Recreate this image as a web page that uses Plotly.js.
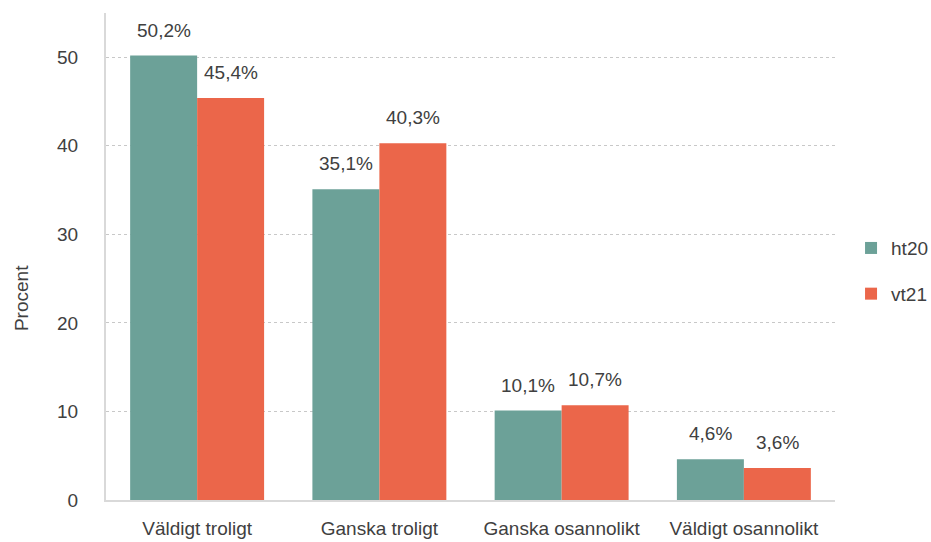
<!DOCTYPE html>
<html>
<head>
<meta charset="utf-8">
<script src="https://cdn.plot.ly/plotly-3.0.1.min.js"></script>
<style>
  html, body { margin: 0; padding: 0; background: #fff; }
  #chart { width: 931px; height: 542px; }
</style>
</head>
<body>
<div id="chart"></div>
<script>
const categories = ['Väldigt troligt', 'Ganska troligt', 'Ganska osannolikt', 'Väldigt osannolikt']
const ht20 = [50.2, 35.1, 10.1, 4.6]
const vt21 = [45.4, 40.3, 10.7, 3.6]

const colorHt20 = 'rgb(108,161,152)'
const colorVt21 = 'rgb(235,102,74)'
const colorText = 'rgb(64,64,64)'
const fontFamily = '"Liberation Sans", Arial, sans-serif'
const fontSize = 19

const label = v => v.toFixed(1).replace('.', ',') + '%'

const data = [
  {
    x: categories,
    y: ht20,
    type: 'bar',
    name: 'ht20',
    legendgroup: 'a',
    hoverinfo: 'none',
    marker: {color: colorHt20}
  },
  {
    x: categories,
    y: vt21,
    type: 'bar',
    name: 'vt21',
    legendgroup: 'b',
    hoverinfo: 'none',
    marker: {color: colorVt21}
  }
]

// value labels above the bars, shifted left/right onto each bar of the group
const valueLabels = (values, shift) => values.map((v, i) => ({
  x: categories[i],
  y: v,
  xref: 'x',
  yref: 'y',
  text: label(v),
  showarrow: false,
  xanchor: 'center',
  yanchor: 'bottom',
  xshift: shift,
  yshift: 13,
  font: {size: fontSize, color: colorText}
}))

const layout = {
  width: 931,
  height: 542,
  margin: {l: 106, r: 96, t: 13, b: 42, autoexpand: false},
  font: {family: fontFamily, size: fontSize, color: colorText},
  paper_bgcolor: '#fff',
  plot_bgcolor: '#fff',
  barmode: 'group',
  bargap: 0.265,
  bargroupgap: 0,
  xaxis: {
    showline: true,
    linecolor: 'rgb(217,217,217)',
    linewidth: 2,
    ticks: '',
    tickangle: 0,
    ticklabelstandoff: 10,
    tickfont: {size: fontSize, color: colorText},
    showgrid: false
  },
  yaxis: {
    range: [0, 55],
    dtick: 10,
    showline: true,
    linecolor: 'rgb(217,217,217)',
    linewidth: 2,
    ticks: '',
    ticklabelstandoff: 22,
    tickfont: {size: fontSize, color: colorText},
    showgrid: true,
    gridcolor: 'rgb(200,200,200)',
    griddash: 'dot',
    gridwidth: 1,
    zeroline: false
  },
  annotations: [
    ...valueLabels(ht20, -33.5),
    ...valueLabels(vt21, 33.5),
    {
      text: 'Procent',
      xref: 'paper',
      yref: 'paper',
      x: -0.115,
      y: 0.415,
      xanchor: 'center',
      yanchor: 'middle',
      textangle: -90,
      showarrow: false,
      font: {size: fontSize, color: colorText}
    }
  ],
  showlegend: true,
  legend: {
    x: 1.022,
    y: 0.47,
    xanchor: 'left',
    yanchor: 'middle',
    tracegroupgap: 18,
    font: {size: fontSize, color: colorText}
  }
}

Plotly.newPlot('chart', data, layout, {displayModeBar: false, staticPlot: true})
</script>
</body>
</html>
